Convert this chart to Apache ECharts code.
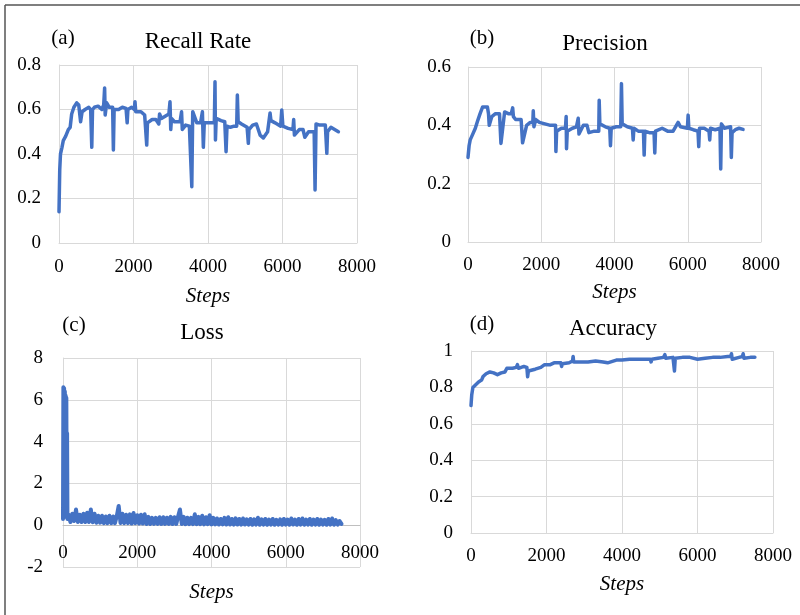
<!DOCTYPE html>
<html><head><meta charset="utf-8">
<script src="https://cdn.jsdelivr.net/npm/echarts@6/dist/echarts.min.js"></script>
<style>html,body{margin:0;padding:0;background:#fff}#c{width:800px;height:615px}</style>
</head><body><div id="c"></div>
<script>
const panelTitles = ['Recall Rate', 'Precision', 'Loss', 'Accuracy'];
const panelLetters = ['(a)', '(b)', '(c)', '(d)'];
const xAxisName = 'Steps';

const recallSteps = [0,20,40,80,115,180,250,300,340,400,475,530,580,620,700,800,850,865,880,900,950,1050,1150,1200,1225,1240,1280,1350,1440,1460,1480,1500,1600,1700,1800,1830,1850,1950,2020,2040,2060,2120,2200,2300,2340,2355,2375,2500,2600,2680,2700,2750,2850,2950,2980,3000,3020,3100,3250,3290,3310,3400,3500,3550,3565,3590,3700,3800,3850,3875,3900,4000,4100,4170,4188,4200,4220,4350,4450,4470,4485,4510,4600,4700,4770,4788,4810,4900,5050,5070,5083,5100,5200,5300,5400,5485,5600,5666,5690,5800,5950,5980,6010,6150,6280,6300,6320,6450,6550,6600,6700,6850,6860,6874,6900,7000,7150,7175,7190,7210,7300,7400,7500];
const recallValues = [0.14,0.33,0.40,0.43,0.46,0.48,0.51,0.52,0.58,0.61,0.63,0.62,0.545,0.59,0.60,0.61,0.60,0.60,0.43,0.60,0.61,0.615,0.60,0.62,0.697,0.575,0.63,0.61,0.61,0.418,0.60,0.60,0.60,0.61,0.605,0.54,0.60,0.61,0.60,0.635,0.59,0.59,0.59,0.575,0.575,0.44,0.54,0.555,0.555,0.535,0.58,0.56,0.57,0.58,0.635,0.51,0.56,0.545,0.545,0.59,0.51,0.53,0.525,0.52,0.253,0.59,0.54,0.54,0.59,0.43,0.54,0.54,0.54,0.54,0.725,0.463,0.56,0.55,0.545,0.545,0.41,0.525,0.52,0.525,0.525,0.665,0.545,0.535,0.52,0.52,0.448,0.51,0.53,0.535,0.485,0.472,0.50,0.584,0.55,0.54,0.525,0.598,0.525,0.515,0.51,0.555,0.485,0.51,0.51,0.475,0.50,0.50,0.50,0.238,0.535,0.53,0.53,0.53,0.403,0.50,0.52,0.51,0.50];

const precisionSteps = [0,30,60,130,200,270,330,400,530,560,580,650,750,860,880,900,1000,1100,1180,1220,1240,1300,1450,1470,1490,1600,1700,1770,1782,1800,1850,1950,2100,2250,2390,2400,2420,2550,2660,2680,2690,2710,2850,2960,2990,3009,3030,3150,3250,3300,3450,3570,3582,3600,3750,3870,3890,3910,4050,4170,4190,4210,4350,4490,4510,4530,4650,4790,4810,4830,4950,5080,5100,5120,5300,5450,5600,5737,5800,5990,6010,6030,6150,6280,6300,6320,6450,6580,6600,6620,6750,6880,6900,6920,7000,7170,7190,7210,7300,7400,7510];
const precisionValues = [0.29,0.33,0.35,0.37,0.39,0.418,0.44,0.463,0.463,0.44,0.40,0.43,0.44,0.44,0.44,0.338,0.446,0.44,0.44,0.46,0.43,0.42,0.42,0.42,0.34,0.40,0.41,0.41,0.45,0.395,0.42,0.41,0.405,0.40,0.40,0.31,0.38,0.39,0.39,0.43,0.32,0.38,0.39,0.395,0.395,0.424,0.37,0.40,0.40,0.375,0.38,0.38,0.486,0.405,0.395,0.39,0.33,0.39,0.395,0.395,0.543,0.405,0.395,0.39,0.35,0.39,0.38,0.38,0.298,0.38,0.375,0.375,0.305,0.38,0.39,0.38,0.38,0.41,0.395,0.39,0.435,0.39,0.385,0.38,0.327,0.39,0.39,0.38,0.35,0.39,0.385,0.39,0.25,0.405,0.39,0.395,0.29,0.375,0.385,0.39,0.386];

const lossSteps = [0,10,20,30,40,50,60,70,80,90,100,110,120,150,200,250,300,350,400,450,500,550,600,650,700,750,800,850,900,950,1000,1050,1100,1150,1200,1250,1300,1350,1400,1450,1500,1550,1600,1650,1700,1750,1800,1850,1900,1950,2000,2050,2100,2150,2200,2250,2300,2350,2400,2450,2500,2550,2600,2650,2700,2750,2800,2850,2900,2950,3000,3050,3100,3150,3200,3250,3300,3350,3400,3450,3500,3550,3600,3650,3700,3750,3800,3850,3900,3950,4000,4050,4100,4150,4200,4250,4300,4350,4400,4450,4500,4550,4600,4650,4700,4750,4800,4850,4900,4950,5000,5050,5100,5150,5200,5250,5300,5350,5400,5450,5500,5550,5600,5650,5700,5750,5800,5850,5900,5950,6000,6050,6100,6150,6200,6250,6300,6350,6400,6450,6500,6550,6600,6650,6700,6750,6800,6850,6900,6950,7000,7050,7100,7150,7200,7250,7300,7350,7400,7450,7500];
const lossValues = [0.3,6.6,0.4,6.55,0.5,6.4,0.4,6.2,0.5,6.1,0.4,4.4,0.3,
  0.5,0.15,0.55,0.2,0.75,0.15,0.5,0.15,0.55,0.15,0.6,0.15,0.75,0.14,0.55,0.12,0.45,0.12,0.45,0.1,0.42,0.1,0.45,0.1,0.42,0.1,0.45,0.92,0.1,0.55,0.1,0.5,0.1,0.52,0.08,0.58,0.1,
  0.48,0.08,0.5,0.08,0.52,0.06,0.4,0.06,0.35,0.06,0.35,0.06,0.38,0.06,0.38,0.06,0.36,0.06,0.4,0.06,0.38,0.06,0.42,0.75,0.06,0.4,0.05,0.36,0.05,0.35,0.05,0.52,0.05,0.4,0.05,0.45,0.04,0.38,0.05,0.48,
  0.04,0.35,0.04,0.32,0.03,0.3,0.04,0.35,0.03,0.38,0.03,0.3,0.03,0.33,0.03,0.3,0.03,0.32,0.03,0.28,0.03,0.3,0.02,0.28,0.03,0.36,0.02,0.28,0.03,0.3,0.02,0.27,0.03,0.3,0.02,0.26,0.03,0.28,0.02,0.3,
  0.03,0.27,0.02,0.32,0.03,0.27,0.02,0.3,0.03,0.32,0.02,0.27,0.03,0.3,0.02,0.27,0.03,0.3,0.02,0.27,0.03,0.26,0.02,0.3,0.03,0.32,0.02,0.24,0.03,0.2,0.06];

const accuracySteps = [0,20,50,100,200,280,320,400,500,600,700,800,900,950,1100,1200,1230,1260,1400,1480,1500,1520,1700,1850,1950,2100,2200,2380,2400,2420,2600,2690,2705,2720,2900,3100,3300,3500,3620,3640,3660,3850,3880,3900,4000,4200,4220,4240,4400,4600,4750,4770,4790,4950,5100,5135,5160,5350,5390,5410,5600,5800,6000,6200,6400,6600,6800,6880,6900,6920,7100,7190,7210,7230,7400,7520];
const accuracyValues = [0.70,0.76,0.80,0.81,0.83,0.84,0.86,0.875,0.885,0.88,0.87,0.88,0.885,0.905,0.905,0.91,0.925,0.905,0.915,0.91,0.858,0.89,0.90,0.91,0.925,0.925,0.935,0.935,0.915,0.93,0.935,0.945,0.97,0.94,0.94,0.94,0.945,0.94,0.935,0.925,0.945,0.95,0.96,0.95,0.95,0.955,0.965,0.955,0.955,0.955,0.955,0.94,0.955,0.96,0.965,0.98,0.96,0.965,0.89,0.96,0.965,0.965,0.955,0.96,0.965,0.965,0.97,0.97,0.985,0.955,0.965,0.97,0.985,0.96,0.965,0.965];

const yRanges = [[0, 0.8, 0.2], [0, 0.6, 0.2], [-2, 8, 2], [0, 1, 0.2]];
const xRange = [0, 8000, 2000];

const F = '"Liberation Serif", "Times New Roman", serif';
const BLUE = '#4472C4';
const GRID = '#d9d9d9';

const grids = [
  {left: 59, top: 65, width: 298, height: 178, outerBoundsMode: 'none', containLabel: false},
  {left: 468, top: 67, width: 293, height: 175, outerBoundsMode: 'none', containLabel: false},
  {left: 63, top: 358, width: 297, height: 209, outerBoundsMode: 'none', containLabel: false},
  {left: 471, top: 351, width: 302, height: 182, outerBoundsMode: 'none', containLabel: false}
];
const xLabelMargins = [15, 14, 19, 14];
const xNameGaps = [43, 40, 57, 41];
const xOffsets = [0, 0, -42, 0];
const yLabelMargins = [18, 17, 20, 18];

const xAxes = grids.map((g, i) => ({
  type: 'value', gridIndex: i, min: xRange[0], max: xRange[1], interval: xRange[2],
  position: 'bottom', offset: xOffsets[i],
  name: xAxisName, nameLocation: 'middle', nameGap: xNameGaps[i],
  nameTextStyle: {fontFamily: F, fontStyle: 'italic', fontSize: 21, color: '#000'},
  axisLine: {show: true, onZero: false, lineStyle: {color: i === 2 ? '#bfbfbf' : GRID, width: 1}},
  axisTick: {show: false},
  axisLabel: {margin: xLabelMargins[i], fontFamily: F, fontSize: 19, color: '#000', formatter: v => String(v)},
  splitLine: {show: true, lineStyle: {color: GRID, width: 1}}
}));
const yAxes = grids.map((g, i) => ({
  type: 'value', gridIndex: i, min: yRanges[i][0], max: yRanges[i][1], interval: yRanges[i][2],
  axisLine: {show: true, onZero: false, lineStyle: {color: GRID, width: 1}},
  axisTick: {show: false},
  axisLabel: {margin: yLabelMargins[i], fontFamily: F, fontSize: 19, color: '#000', formatter: v => String(Math.round(v * 10) / 10)},
  splitLine: {show: true, lineStyle: {color: GRID, width: 1}}
}));

const pairs = (s, v) => s.map((x, i) => [x, v[i]]);
const seriesData = [
  pairs(recallSteps, recallValues),
  pairs(precisionSteps, precisionValues),
  pairs(lossSteps, lossValues),
  pairs(accuracySteps, accuracyValues)
];
const series = seriesData.map((d, i) => ({
  type: 'line', xAxisIndex: i, yAxisIndex: i, data: d,
  showSymbol: false, symbol: 'none', animation: false, sampling: null,
  lineStyle: {color: BLUE, width: i === 2 ? 4 : 3.5, cap: 'round', join: 'round'}
}));

const titlePos = [[198, 42], [605, 44], [202, 333], [613, 329]];
const letterPos = [[63, 38], [482, 38], [74, 325], [482, 324]];
const graphic = [];
titlePos.forEach((p, i) => graphic.push({
  type: 'text', x: p[0], y: p[1],
  style: {text: panelTitles[i], font: '23px ' + F, fill: '#000', textAlign: 'center', textVerticalAlign: 'middle'}
}));
letterPos.forEach((p, i) => graphic.push({
  type: 'text', x: p[0], y: p[1],
  style: {text: panelLetters[i], font: '21px ' + F, fill: '#000', textAlign: 'center', textVerticalAlign: 'middle'}
}));
graphic.push({type: 'line', shape: {x1: 5, y1: 5, x2: 800, y2: 5}, style: {stroke: '#555', lineWidth: 1.5}});
graphic.push({type: 'line', shape: {x1: 5, y1: 5, x2: 5, y2: 615}, style: {stroke: '#555', lineWidth: 1.5}});

const chart = echarts.init(document.getElementById('c'), null, {renderer: 'canvas'});
chart.setOption({
  backgroundColor: '#fff',
  animation: false,
  grid: grids,
  xAxis: xAxes,
  yAxis: yAxes,
  series: series,
  graphic: graphic
});
</script></body></html>
